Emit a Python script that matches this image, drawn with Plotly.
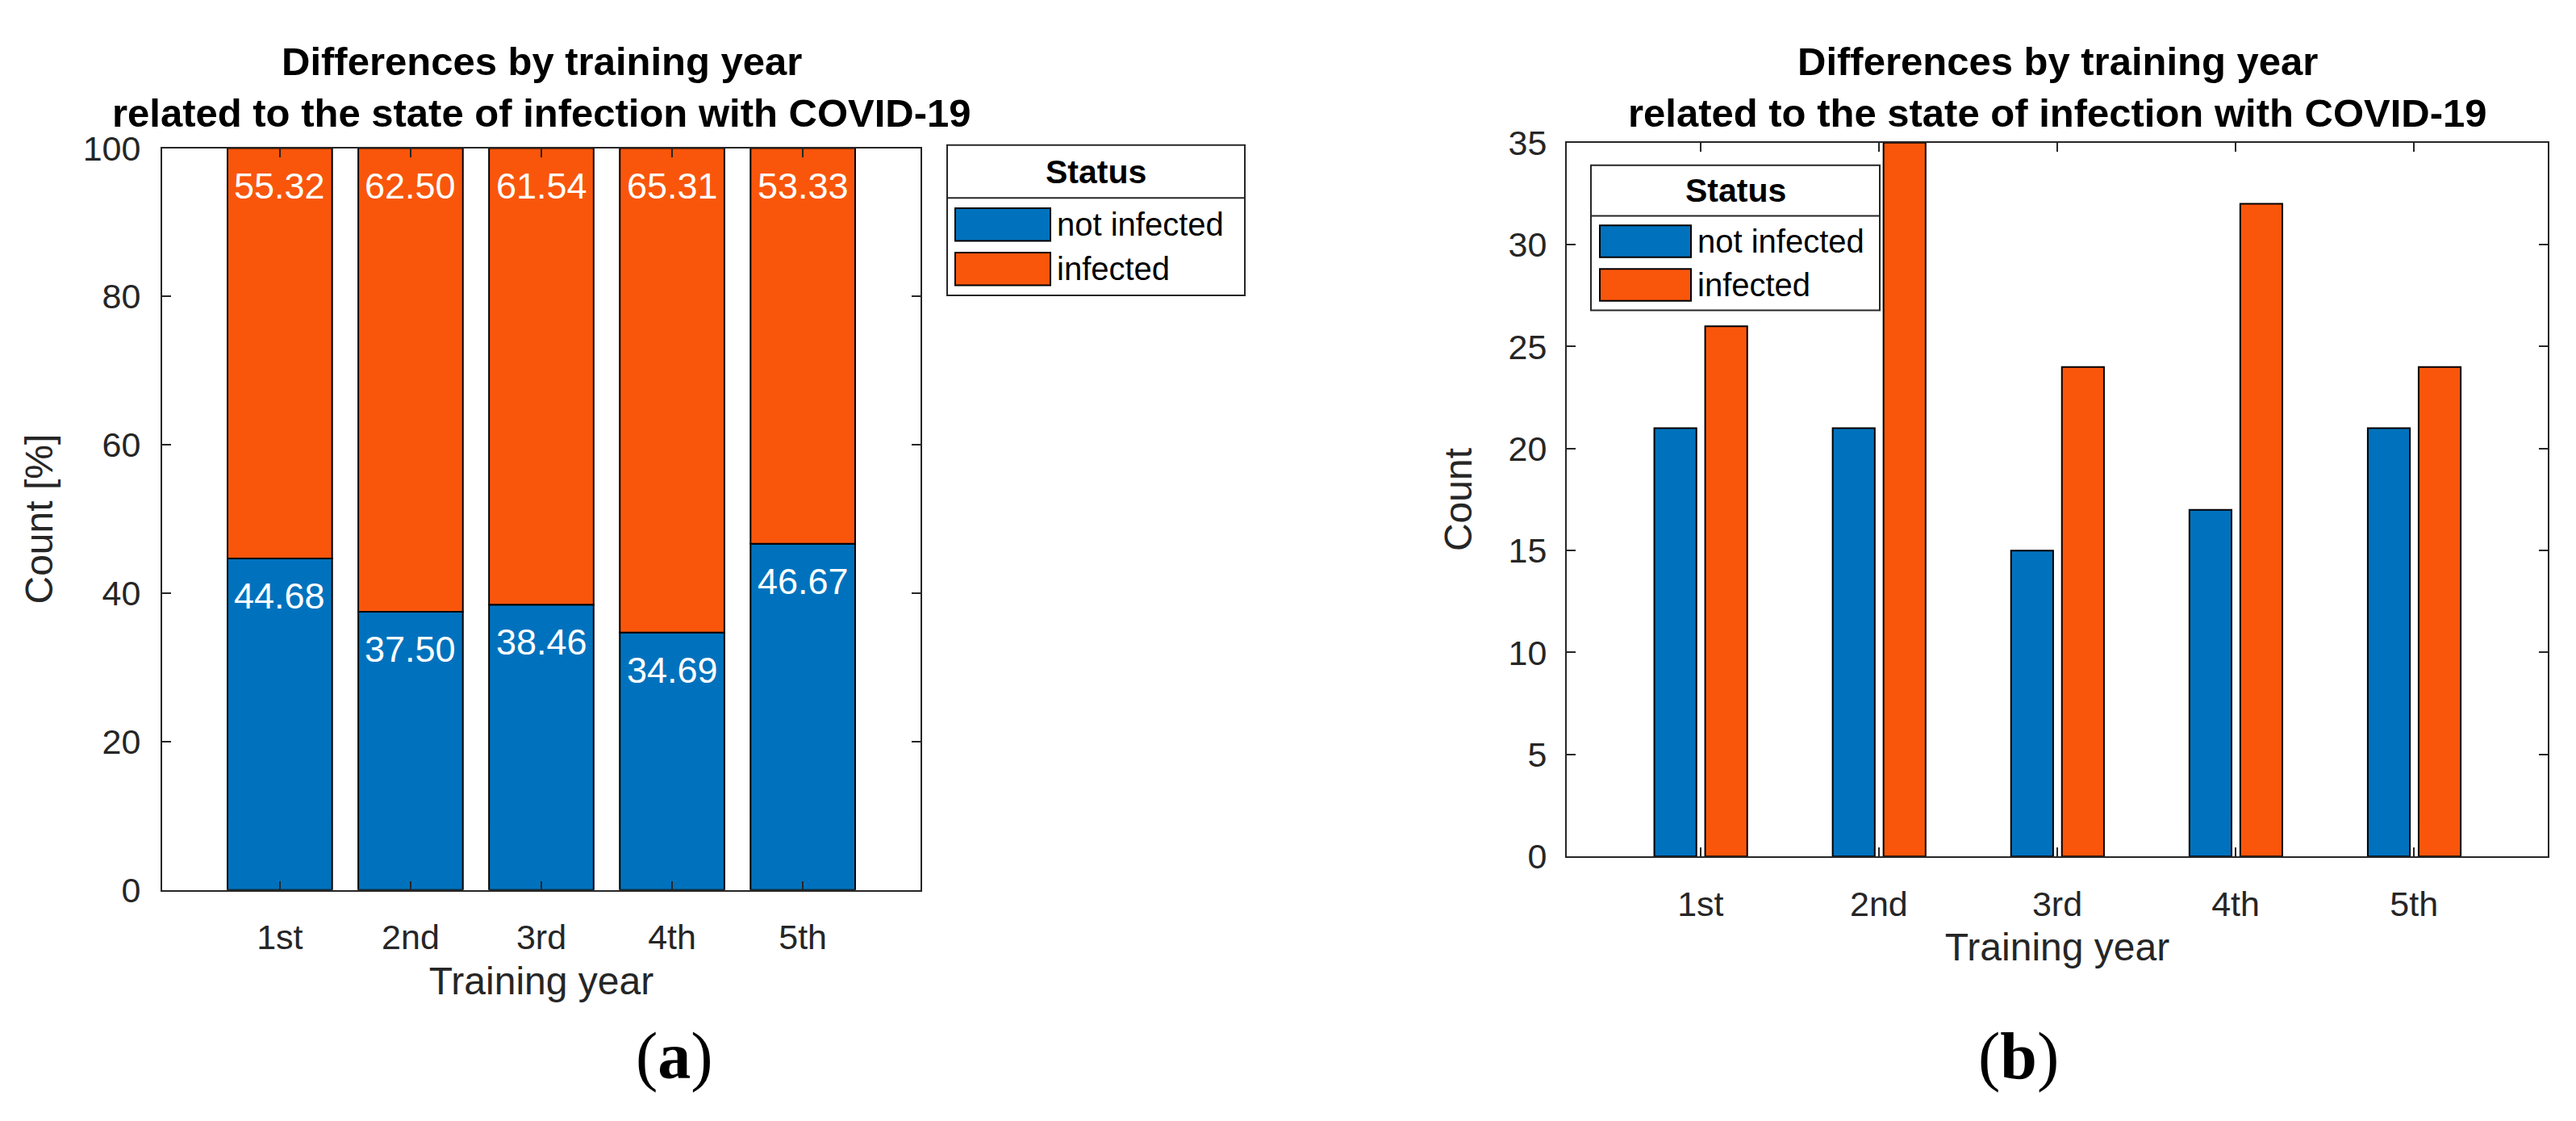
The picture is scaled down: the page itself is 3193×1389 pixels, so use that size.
import plotly.graph_objects as go

# ---------------- data ----------------
years = ["1st", "2nd", "3rd", "4th", "5th"]
status = ["not infected", "infected"]
pct_not_infected = [44.68, 37.50, 38.46, 34.69, 46.67]
pct_infected = [55.32, 62.50, 61.54, 65.31, 53.33]
count_not_infected = [21, 21, 15, 17, 21]
count_infected = [26, 35, 24, 32, 24]
title_lines = ["Differences by training year", "related to the state of infection with COVID-19"]

# ---------------- style ----------------
W, H = 3193, 1389
BLUE = "#0072BD"
ORANGE = "#F9560B"
AX = "#262626"
FONT = "Liberation Sans, Arial, Helvetica, sans-serif"
SERIF = "Liberation Serif, Times New Roman, serif"


def px(x):
    return x / W


def py(y):
    return 1 - y / H


fig = go.Figure()

# ---- panel (a): stacked percent bars ----
fig.add_trace(go.Bar(
    x=years, y=pct_not_infected, name=status[0], width=0.8,
    marker=dict(color=BLUE, line=dict(color="black", width=2)),
    xaxis="x", yaxis="y", showlegend=False))
fig.add_trace(go.Bar(
    x=years, y=pct_infected, base=pct_not_infected, name=status[1], width=0.8,
    marker=dict(color=ORANGE, line=dict(color="black", width=2)),
    xaxis="x", yaxis="y", showlegend=False))

# ---- panel (b): grouped count bars ----
fig.add_trace(go.Bar(
    x=years, y=count_not_infected, name=status[0], width=0.236, offset=-0.259,
    marker=dict(color=BLUE, line=dict(color="black", width=2)),
    xaxis="x2", yaxis="y2", showlegend=False))
fig.add_trace(go.Bar(
    x=years, y=count_infected, name=status[1], width=0.236, offset=0.026,
    marker=dict(color=ORANGE, line=dict(color="black", width=2)),
    xaxis="x2", yaxis="y2", showlegend=False))

annotations = []
# bar value labels (panel a)
for i, yr in enumerate(years):
    annotations.append(dict(
        x=yr, y=pct_not_infected[i], xref="x", yref="y", text=f"{pct_not_infected[i]:.2f}",
        showarrow=False, yanchor="top", yshift=-19,
        font=dict(family=FONT, size=45, color="white")))
    annotations.append(dict(
        x=yr, y=pct_not_infected[i] + pct_infected[i], xref="x", yref="y",
        text=f"{pct_infected[i]:.2f}",
        showarrow=False, yanchor="top", yshift=-19,
        font=dict(family=FONT, size=45, color="white")))

# titles (two lines each)
for cx in [(193 + 1133) / 2, (1934 + 3150) / 2]:
    for line, cy in zip(title_lines, [46, 112]):
        annotations.append(dict(
            x=px(cx), y=py(cy), xref="paper", yref="paper", text="<b>" + line + "</b>",
            showarrow=False, xanchor="center", yanchor="middle",
            font=dict(family=FONT, size=49, color="black")))

# panel letters
annotations.append(dict(x=px(828), y=py(1322), xref="paper", yref="paper", text="(<b>a</b>)",
                        showarrow=False, xanchor="center", yanchor="middle",
                        font=dict(family=SERIF, size=82, color="black")))
annotations.append(dict(x=px(2494), y=py(1322), xref="paper", yref="paper", text="(<b>b</b>)",
                        showarrow=False, xanchor="center", yanchor="middle",
                        font=dict(family=SERIF, size=82, color="black")))

shapes = []


def add_legend(x0, x1, y0, ysep, y1, px0, px1, rows, text_x):
    shapes.append(dict(type="rect", xref="paper", yref="paper", x0=px(x0), x1=px(x1), y0=py(y0), y1=py(y1),
                       line=dict(color=AX, width=2), fillcolor="white", layer="above"))
    shapes.append(dict(type="line", xref="paper", yref="paper", x0=px(x0), x1=px(x1), y0=py(ysep), y1=py(ysep),
                       line=dict(color=AX, width=2), layer="above"))
    annotations.append(dict(x=px((x0 + x1) / 2), y=py((y0 + ysep) / 2), xref="paper", yref="paper",
                            text="<b>Status</b>", showarrow=False, xanchor="center", yanchor="middle",
                            font=dict(family=FONT, size=41, color="black")))
    for (ra, rb), col, lab in zip(rows, [BLUE, ORANGE], status):
        shapes.append(dict(type="rect", xref="paper", yref="paper", x0=px(px0), x1=px(px1), y0=py(ra), y1=py(rb),
                           line=dict(color="black", width=2), fillcolor=col, layer="above"))
        annotations.append(dict(x=px(text_x), y=py((ra + rb) / 2), xref="paper", yref="paper",
                                text=lab, showarrow=False, xanchor="left", yanchor="middle",
                                font=dict(family=FONT, size=40, color="black")))


add_legend(1166, 1535, 153, 221, 346, 1176, 1294, [(234, 276), (291, 333)], 1300)
add_legend(1964, 2322, 179, 244, 365, 1975, 2088, [(256, 297), (312, 353)], 2094)

axis_common = dict(showline=True, linecolor=AX, linewidth=2, mirror="ticks", ticks="inside",
                   ticklen=11, tickwidth=2, tickcolor=AX, showgrid=False, zeroline=False,
                   tickfont=dict(family=FONT, size=43, color=AX))

fig.update_layout(
    width=W, height=H, margin=dict(l=0, r=0, t=0, b=0),
    paper_bgcolor="white", plot_bgcolor="white", barmode="overlay",
    showlegend=False,
    xaxis=dict(domain=[px(193), px(1133)], anchor="y", type="category", categoryorder="array",
               categoryarray=years, range=[-0.9, 4.9], ticklabelstandoff=20,
               title=dict(text="Training year", standoff=14, font=dict(family=FONT, size=48, color=AX)),
               **axis_common),
    yaxis=dict(domain=[py(1109), py(157)], anchor="x", range=[0, 100], dtick=20, ticklabelstandoff=16,
               title=dict(text="Count [%]", standoff=22, font=dict(family=FONT, size=48, color=AX)),
               **axis_common),
    xaxis2=dict(domain=[px(1934), px(3150)], anchor="y2", type="category", categoryorder="array",
                categoryarray=years, range=[-0.75, 4.75], ticklabelstandoff=20,
                title=dict(text="Training year", standoff=14, font=dict(family=FONT, size=48, color=AX)),
                **axis_common),
    yaxis2=dict(domain=[py(1066), py(150)], anchor="x2", range=[0, 35], dtick=5, ticklabelstandoff=14,
                title=dict(text="Count", standoff=30, font=dict(family=FONT, size=48, color=AX)),
                **axis_common),
    annotations=annotations,
    shapes=shapes,
)

fig.write_html("out.html")
